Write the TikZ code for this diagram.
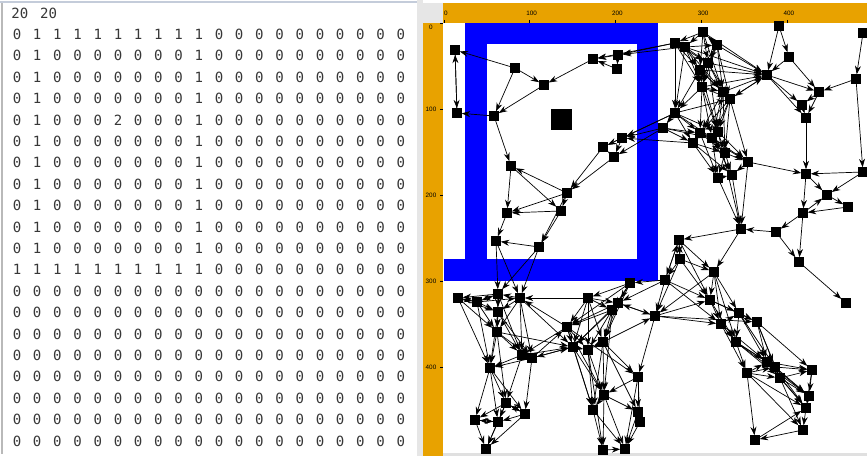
\documentclass[tikz,border=0pt]{standalone}
\usepackage{fontspec}
\newfontfamily\gridfont{DejaVu Sans Mono}
\newfontfamily\rulerfont{Liberation Sans}
\definecolor{wallblue}{RGB}{0,0,255}
\definecolor{rulerorange}{RGB}{232,162,0}
\definecolor{cellgray}{RGB}{55,55,55}
\definecolor{frameblue}{RGB}{196,204,218}
\definecolor{cornergray}{RGB}{230,230,230}
\usetikzlibrary{arrows.meta}

\tikzset{
  digit/.style={font=\gridfont\fontsize{8}{9}\selectfont, text=cellgray, inner sep=0pt},
  ticklabel/.style={font=\rulerfont\fontsize{3.6}{4}\selectfont, inner sep=0pt},
  vertex/.style={fill=black, minimum size=5.4pt, inner sep=0pt, outer sep=0pt},
  link/.style={-{Stealth[length=4.8pt, width=3.4pt]}, line width=0.4pt},
}

\begin{document}
\begin{tikzpicture}[x=0.02cm, y=-0.02cm]
  \useasboundingbox (0,0) rectangle (867,456);
  \fill[white] (0,0) rectangle (867,456);

  % Map file
  \draw[frameblue, line width=0.8pt] (0,2) -- (417,2);
  \draw[gray!55, line width=0.8pt] (2,3) -- (2,454);
  \node[digit, anchor=west] (dims) at (11,13) {20 \hspace{2pt}20};
  \foreach \row [count=\r] in {
    {0,1,1,1,1,1,1,1,1,1,0,0,0,0,0,0,0,0,0,0},
    {0,1,0,0,0,0,0,0,0,1,0,0,0,0,0,0,0,0,0,0},
    {0,1,0,0,0,0,0,0,0,1,0,0,0,0,0,0,0,0,0,0},
    {0,1,0,0,0,0,0,0,0,1,0,0,0,0,0,0,0,0,0,0},
    {0,1,0,0,0,2,0,0,0,1,0,0,0,0,0,0,0,0,0,0},
    {0,1,0,0,0,0,0,0,0,1,0,0,0,0,0,0,0,0,0,0},
    {0,1,0,0,0,0,0,0,0,1,0,0,0,0,0,0,0,0,0,0},
    {0,1,0,0,0,0,0,0,0,1,0,0,0,0,0,0,0,0,0,0},
    {0,1,0,0,0,0,0,0,0,1,0,0,0,0,0,0,0,0,0,0},
    {0,1,0,0,0,0,0,0,0,1,0,0,0,0,0,0,0,0,0,0},
    {0,1,0,0,0,0,0,0,0,1,0,0,0,0,0,0,0,0,0,0},
    {1,1,1,1,1,1,1,1,1,1,0,0,0,0,0,0,0,0,0,0},
    {0,0,0,0,0,0,0,0,0,0,0,0,0,0,0,0,0,0,0,0},
    {0,0,0,0,0,0,0,0,0,0,0,0,0,0,0,0,0,0,0,0},
    {0,0,0,0,0,0,0,0,0,0,0,0,0,0,0,0,0,0,0,0},
    {0,0,0,0,0,0,0,0,0,0,0,0,0,0,0,0,0,0,0,0},
    {0,0,0,0,0,0,0,0,0,0,0,0,0,0,0,0,0,0,0,0},
    {0,0,0,0,0,0,0,0,0,0,0,0,0,0,0,0,0,0,0,0},
    {0,0,0,0,0,0,0,0,0,0,0,0,0,0,0,0,0,0,0,0},
    {0,0,0,0,0,0,0,0,0,0,0,0,0,0,0,0,0,0,0,0}}{
    \foreach \d [count=\c] in \row
      \node[digit] (cell-\r-\c) at ({17+20.2*(\c-1)}, {13+21.4*\r}) {\d};
  }

  % Viewer frame and rulers
  \fill[cornergray] (417,0) rectangle (423,456);
  \fill[cornergray] (423,3) rectangle (443,23);
  \fill[rulerorange] (443,3) rectangle (867,23);
  \fill[rulerorange] (423,23) rectangle (443,456);
  \fill[black!12] (443,453) rectangle (867,456);
  \foreach \k/\lab in {0/0, 1/100, 2/200, 3/300, 4/400} {
    \draw[line width=0.3pt] ({444+85.7*\k},20) -- ({444+85.7*\k},23);
    \node[ticklabel] (top-\k) at ({446+85.7*\k},13) {\lab};
  }
  \foreach \k/\lab/\ly in {0/0/27, 1/100/109, 2/200/195, 3/300/281, 4/400/367} {
    \draw[line width=0.3pt] (440,{23+86*\k}) -- (443,{23+86*\k});
    \node[ticklabel] (left-\k) at (431,\ly) {\lab};
  }

  % Walls and goal
  \fill[wallblue] (465,23) rectangle (658,44.5);
  \fill[wallblue] (465,23) rectangle (487,281);
  \fill[wallblue] (637,23) rectangle (658,281);
  \fill[wallblue] (444,259.5) rectangle (658,281);
  \fill[black] (551,109) rectangle (572,130);

  % Roadmap vertices
  \foreach \n/\x/\y in {
    a1/455/50, a2/457/113, a3/515/68, a4/544/85, a5/494/116, a6/593/59, a7/618/55,
    a8/617/69, a9/511/166, a10/603/147, a11/622/138, a12/614/157, a13/567/193,
    a14/507/213, a15/561/211,
    b1/703/32, b2/675/43, b3/685/47, b4/717/45, b5/708/63, b6/700/70, b7/702/87,
    b8/723/92, b9/730/99, b10/779/26, b11/789/57, b12/767/75, b13/863/33, b14/856/79,
    b15/819/92, b16/802/105, b17/806/118, b18/675/113, b19/663/128, b20/700/133,
    b21/718/132, b22/693/143, b23/712/138, b24/725/153, b25/748/162, b26/718/178,
    b27/732/175, b28/806/174, b29/827/195, b30/848/207, b31/863/172, b32/803/213,
    b33/741/229, b34/776/232,
    c1/496/241, c2/539/247, c3/458/298, c4/477/302, c5/498/294, c6/520/298,
    c7/498/312, c8/497/332, c9/522/355, c10/532/358, c11/490/368, c12/506/403,
    c13/525/414, c14/475/420, c15/498/422, c16/486/449,
    d1/679/240, d2/680/259, d3/665/280, d4/714/272, d5/799/262, d6/846/303,
    d7/655/316, d8/710/300, d9/721/324, d10/739/313, d11/757/322, d12/736/342,
    d13/767/362, d14/775/367, d15/780/378, d16/747/373, d17/812/370, d18/809/396,
    d19/806/408, d20/803/430, d21/755/440,
    e1/630/283, e2/588/298, e3/618/303, e4/612/310, e5/567/327, e6/603/342,
    e7/573/347, e8/588/350, e9/638/377, e10/604/395, e11/593/410, e12/638/412,
    e13/640/422, e14/603/450, e15/625/449}
    \node[vertex] (\n) at (\x,\y) {};

  % Roadmap edges
  \foreach \s/\t in {
    a3/a1, a1/a2, a2/a1, a5/a2, a3/a4, a4/a5, a3/a5, a6/a4, a7/a6, a8/a6, a7/a8,
    b2/a7, b3/a7, b2/a6, a5/a9, a13/a9, a9/a14, a13/a14, a15/a14, a9/a15, a13/a15,
    a10/a13, a12/a13, a11/a10, a12/a10, a11/a12, b19/a11, b18/a11, b18/a10,
    b19/a12, b22/a11, a14/c1, a15/c2, c2/c1, a13/c2,
    c1/c5, c2/c5, c2/c6, c1/c6, c4/c3, c5/c3, c5/c4, c6/c5, c4/c7, c5/c7, c7/c8,
    c5/c8, c6/c8, c6/c9, c8/c9, c8/c10, c4/c11, c3/c11, c8/c11, c10/c11, c9/c11,
    c11/c12, c11/c14, c12/c13, c13/c12, c9/c12, c10/c13, c12/c15, c14/c15,
    c15/c14, c14/c16, c15/c16, c13/c16, c12/c14, c6/c7, c4/c8, c3/c4,
    c4/c6, c3/c7, c7/c9, c7/c10, c5/c9, c6/c10, c8/c12, c11/c15, c11/c13,
    c12/c16, c7/c11, c3/c8, c4/c5, c13/c15,
    e5/c6, c10/e5, e7/c10, c10/e7, c9/e7, c8/e7, e2/c6, e5/c9, c6/e7,
    e1/e2, e1/e3, e2/e4, e2/e5, e2/e7, e2/e8, e3/e6, e4/e6, e4/e7, e5/e7, e5/e8,
    e6/e8, e7/e8, e8/e10, e7/e11, e8/e11, e6/e10, e6/e9, e9/e12, e10/e11,
    e10/e12, e11/e14, e10/e14, e13/e15, e12/e15, e14/e15, e11/e15, e9/e13,
    e5/e9, d7/e3, e3/d7, e6/d7, d3/e1, e4/e8, e2/e6, d7/e9, d3/e3,
    e1/e4, e3/e5, e1/e5, e3/e7, e4/e5, e4/e10, e6/e11, e5/e10, e7/e10, e8/e14,
    e6/e12, e9/e10, e10/e15, e2/e3, e1/e6, e5/e11, e9/e15,
    b33/d1, b33/d4, b34/b33, b34/d5, d1/d2, d2/d1, d3/d1, d2/d3, d2/d4, d1/d4,
    d3/d7, d3/d8, d1/d8, d2/d8, d4/d8, d4/d9, d4/d10, d7/d9, d8/d9, d9/d10,
    d9/d12, d10/d11, d10/d12, d11/d13, d12/d13, d12/d16, d9/d16, d13/d17,
    d15/d17, d16/d14, d15/d18, d14/d18, d17/d18, d18/d19, d19/d20, d16/d21,
    d20/d21, d15/d19, d16/d15, d11/d14, d5/d6, d4/d7, d7/d8, d7/d11, d8/d10,
    d12/d14, d16/d19, d13/d15, d14/d15, b32/d5, d21/d19,
    d1/d3, d4/d12, d8/d12, d10/d13, d11/d15, d12/d15, d13/d18, d14/d17, d9/d13,
    d10/d14, d14/d19, d17/d19, d15/d20, d13/d19, d16/d20, d11/d17, d8/d11,
    d3/d9, d2/d7, d12/d18, d16/d13,
    b1/b2, b1/b3, b4/b1, b3/b5, b1/b5, b4/b5, b6/b7, b3/b6, b5/b8, b6/b8, b7/b8,
    b4/b8, b1/b12, b4/b12, b5/b12, b8/b12, b9/b12, b10/b11, b10/b12, b11/b12,
    b11/b15, b12/b15, b12/b16, b13/b14, b14/b15, b16/b17, b15/b17, b15/b16,
    b12/b9, b7/b18, b2/b18, b3/b18, b6/b18, b18/b19, b18/b20, b18/b22, b7/b20,
    b7/b21, b8/b21, b9/b23, b20/b22, b22/b24, b20/b24, b23/b24, b24/b25,
    b21/b25, b9/b25, b24/b26, b22/b26, b23/b26, b24/b27, b26/b27, b25/b27,
    b27/b33, b26/b33, b25/b33, b17/b28, b28/b29, b28/b32, b29/b30, b31/b28,
    b31/b29, b32/b29, b30/b32, b25/b28, b19/b22, b20/b23, b18/b25, b7/b9,
    b3/b4, b9/b21, b32/b34, b12/b17, b14/b31,
    b1/b6, b2/b5, b2/b6, b4/b6, b4/b9, b5/b9, b1/b8, b6/b9, b3/b8, b7/b12,
    b2/b7, b3/b7, b4/b7, b8/b20, b9/b20, b6/b21, b5/b21, b7/b23, b8/b23,
    b9/b24, b19/b20, b18/b21, b19/b23, b20/b26, b21/b24, b23/b27, b20/b25,
    b3/b12, b6/b12, b18/b9, b21/b33, b22/b27, b5/b7, b8/b24}
    \draw[link] (\s) -- (\t);
\end{tikzpicture}
\end{document}
